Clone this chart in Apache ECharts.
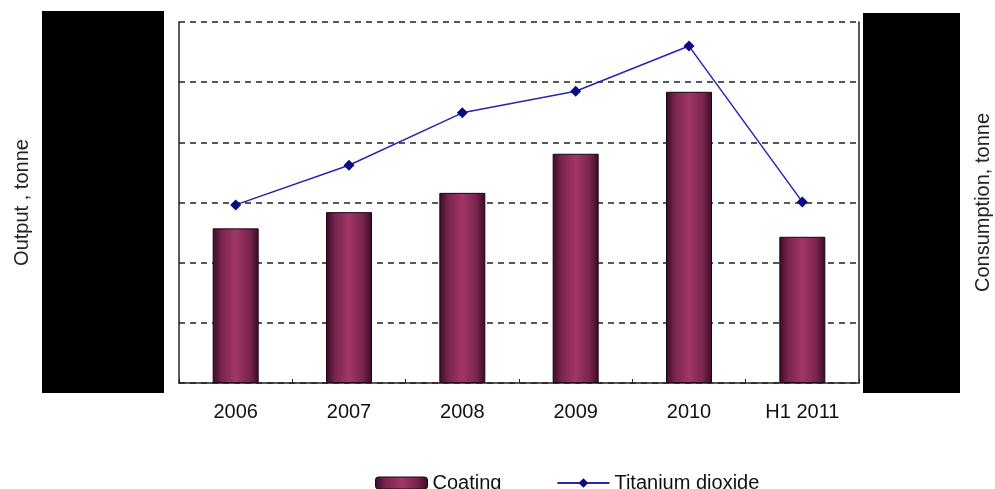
<!DOCTYPE html>
<html>
<head>
<meta charset="utf-8">
<script src="https://cdn.jsdelivr.net/npm/echarts@6/dist/echarts.min.js"></script>
<style>html,body{margin:0;padding:0;background:#fff}#c{width:995px;height:489px}</style>
</head>
<body>
<div id="c"></div>
<script>
const categories = ['2006', '2007', '2008', '2009', '2010', 'H1 2011'];
const coating = [257, 284, 316, 381, 484, 243];
const titaniumDioxide = [296, 362, 449, 485, 560, 301];
const seriesNames = ['Coating', 'Titanium dioxide'];
const axisNames = ['Output , tonne', 'Consumption, tonne'];

const chart = echarts.init(document.getElementById('c'));
const font = 'Liberation Sans, Arial, sans-serif';
const barGrad = new echarts.graphic.LinearGradient(0, 0, 1, 0, [
  {offset: 0, color: '#3a0c24'},
  {offset: 0.2, color: '#7a2450'},
  {offset: 0.5, color: '#a23668'},
  {offset: 0.8, color: '#7a2450'},
  {offset: 1, color: '#3a0c24'}
]);
const yCommon = {
  type: 'value', min: 0, max: 600, interval: 100,
  nameLocation: 'middle', nameRotate: 90,
  nameTextStyle: {fontFamily: font, fontSize: 20, color: '#222'},
  axisLabel: {show: false},
  axisTick: {show: false},
  axisLine: {show: true, lineStyle: {color: '#222', width: 1.5}}
};
chart.setOption({
  animation: false,
  backgroundColor: '#fff',
  grid: {left: 179, right: 136, top: 22, bottom: 106, outerBoundsMode: 'none', containLabel: false},
  legend: {
    left: 370, top: 468, itemWidth: 52, itemHeight: 12, itemGap: 55,
    textStyle: {fontFamily: font, fontSize: 20, color: '#111'},
    data: [{name: seriesNames[0], itemStyle: {color: barGrad, borderColor: '#111', borderWidth: 1}}, {name: seriesNames[1]}]
  },
  xAxis: {
    type: 'category', data: categories,
    axisLine: {lineStyle: {color: '#222', width: 1.5}},
    axisTick: {show: true, inside: true, length: 4, lineStyle: {color: '#222'}},
    axisLabel: {fontFamily: font, fontSize: 20, color: '#111', margin: 19}
  },
  yAxis: [
    Object.assign({}, yCommon, {
      name: axisNames[0], nameGap: 147,
      splitLine: {show: true, lineStyle: {color: '#222', type: [6, 5], width: 1.5}}
    }),
    Object.assign({}, yCommon, {
      name: axisNames[1], nameGap: 114, position: 'right',
      splitLine: {show: false}
    })
  ],
  series: [
    {
      name: seriesNames[0], type: 'bar', data: coating, barWidth: 46, yAxisIndex: 0,
      itemStyle: {color: barGrad, borderColor: '#1a0510', borderWidth: 1}
    },
    {
      name: seriesNames[1], type: 'line', data: titaniumDioxide, yAxisIndex: 1,
      symbol: 'diamond', symbolSize: 11,
      lineStyle: {color: '#2626b0', width: 1.5},
      itemStyle: {color: '#0a0a80'}
    }
  ],
  graphic: [
    {type: 'rect', shape: {x: 42, y: 11, width: 122, height: 382}, style: {fill: '#000'}, z: 100},
    {type: 'rect', shape: {x: 863, y: 13, width: 97, height: 380}, style: {fill: '#000'}, z: 100}
  ]
});
</script>
</body>
</html>
